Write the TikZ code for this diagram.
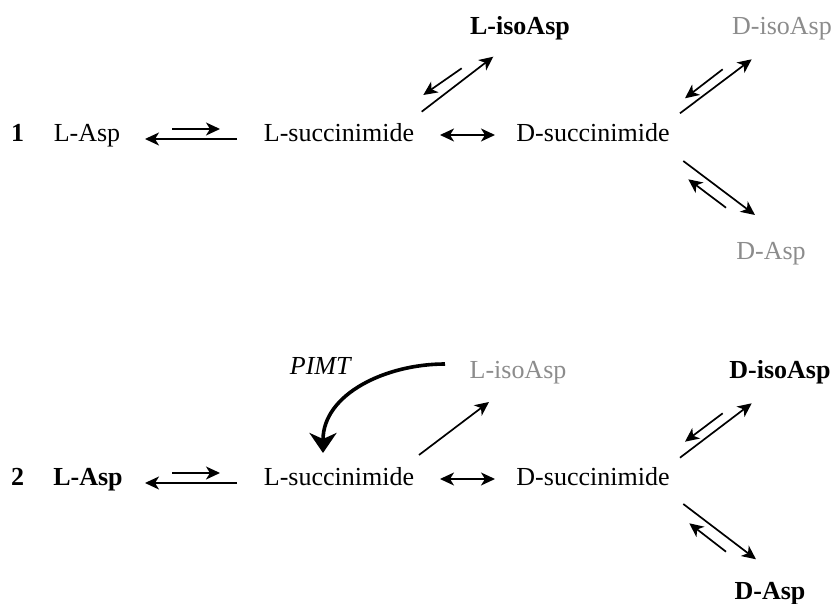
\documentclass[tikz,border=0pt]{standalone}
\usepackage{fontspec}
\setmainfont{Liberation Serif}
\usetikzlibrary{arrows.meta}
\tikzset{
    rtip/.tip={Stealth[length=7pt,width=6.5pt,inset=2pt]},
    lbl/.style={anchor=base, inner sep=0pt, font=\fontsize{13}{15}\selectfont},
    faded/.style={text=black!45},
    rxn/.style={line width=0.85pt, -{rtip}},
    both/.style={line width=0.85pt, {rtip}-{rtip}},
    pimt arrow/.style={line width=1.8pt, -{Stealth[length=10pt,width=13.5pt,inset=3pt]}},
}

\begin{document}
\begin{tikzpicture}[x=0.5pt, y=-0.5pt]
\useasboundingbox (0,0) rectangle (837,604);

% scheme 1
\node[lbl] (num1) at (17.5,142) {\textbf{1}};
\node[lbl] (lasp1) at (87,142) {L-Asp};
\node[lbl] (lsuc1) at (339,142) {L-succinimide};
\node[lbl] (dsuc1) at (593,142) {D-succinimide};
\node[lbl] (liso1) at (520,35) {\textbf{L-isoAsp}};
\node[lbl, faded] (diso1) at (782,35) {D-isoAsp};
\node[lbl, faded] (dasp1) at (771,260) {D-Asp};

\coordinate (eqA1) at (172,129); \coordinate (eqB1) at (220,129);
\coordinate (eqC1) at (237,139); \coordinate (eqD1) at (145,139);
\coordinate (rcA1) at (440,135); \coordinate (rcB1) at (495,135);
\coordinate (liA1) at (421.7,111.7); \coordinate (liB1) at (493.3,56.7);
\coordinate (liC1) at (461.7,68.3); \coordinate (liD1) at (423.3,95);
\coordinate (diA1) at (680,113.3); \coordinate (diB1) at (751.7,59.3);
\coordinate (diC1) at (722.7,69.3); \coordinate (diD1) at (685,98.3);
\coordinate (daA1) at (683.3,161); \coordinate (daB1) at (755,215);
\coordinate (daC1) at (726,207.7); \coordinate (daD1) at (688.3,179.3);

\draw[rxn] (eqA1) -- (eqB1);
\draw[rxn] (eqC1) -- (eqD1);
\draw[both] (rcA1) -- (rcB1);
\draw[rxn] (liA1) -- (liB1);
\draw[rxn] (liC1) -- (liD1);
\draw[rxn] (diA1) -- (diB1);
\draw[rxn] (diC1) -- (diD1);
\draw[rxn] (daA1) -- (daB1);
\draw[rxn] (daC1) -- (daD1);

% scheme 2
\node[lbl] (num2) at (17.5,486) {\textbf{2}};
\node[lbl] (lasp2) at (88,486) {\textbf{L-Asp}};
\node[lbl] (lsuc2) at (339,486) {L-succinimide};
\node[lbl] (dsuc2) at (593,486) {D-succinimide};
\node[lbl, faded] (liso2) at (518,379) {L-isoAsp};
\node[lbl] (diso2) at (780,379) {\textbf{D-isoAsp}};
\node[lbl] (dasp2) at (770,600) {\textbf{D-Asp}};
\node[lbl] (pimt) at (321,375) {\textit{PIMT}};

\coordinate (eqA2) at (172,473); \coordinate (eqB2) at (220,473);
\coordinate (eqC2) at (237,483); \coordinate (eqD2) at (145,483);
\coordinate (rcA2) at (440,479); \coordinate (rcB2) at (495,479);
\coordinate (liA2) at (419,455); \coordinate (liB2) at (489,402);
\coordinate (diA2) at (680,457.7); \coordinate (diB2) at (751.7,403.3);
\coordinate (diC2) at (722.7,413.3); \coordinate (diD2) at (685,441.7);
\coordinate (daA2) at (683.3,504); \coordinate (daB2) at (756,559.3);
\coordinate (daC2) at (726,551.7); \coordinate (daD2) at (689.3,523.3);
\coordinate (pmA) at (445,364); \coordinate (pmB) at (323,453);

\draw[rxn] (eqA2) -- (eqB2);
\draw[rxn] (eqC2) -- (eqD2);
\draw[both] (rcA2) -- (rcB2);
\draw[rxn] (liA2) -- (liB2);
\draw[rxn] (diA2) -- (diB2);
\draw[rxn] (diC2) -- (diD2);
\draw[rxn] (daA2) -- (daB2);
\draw[rxn] (daC2) -- (daD2);
\draw[pimt arrow] (pmA) to[out=180, in=90] (pmB);
\end{tikzpicture}
\end{document}
